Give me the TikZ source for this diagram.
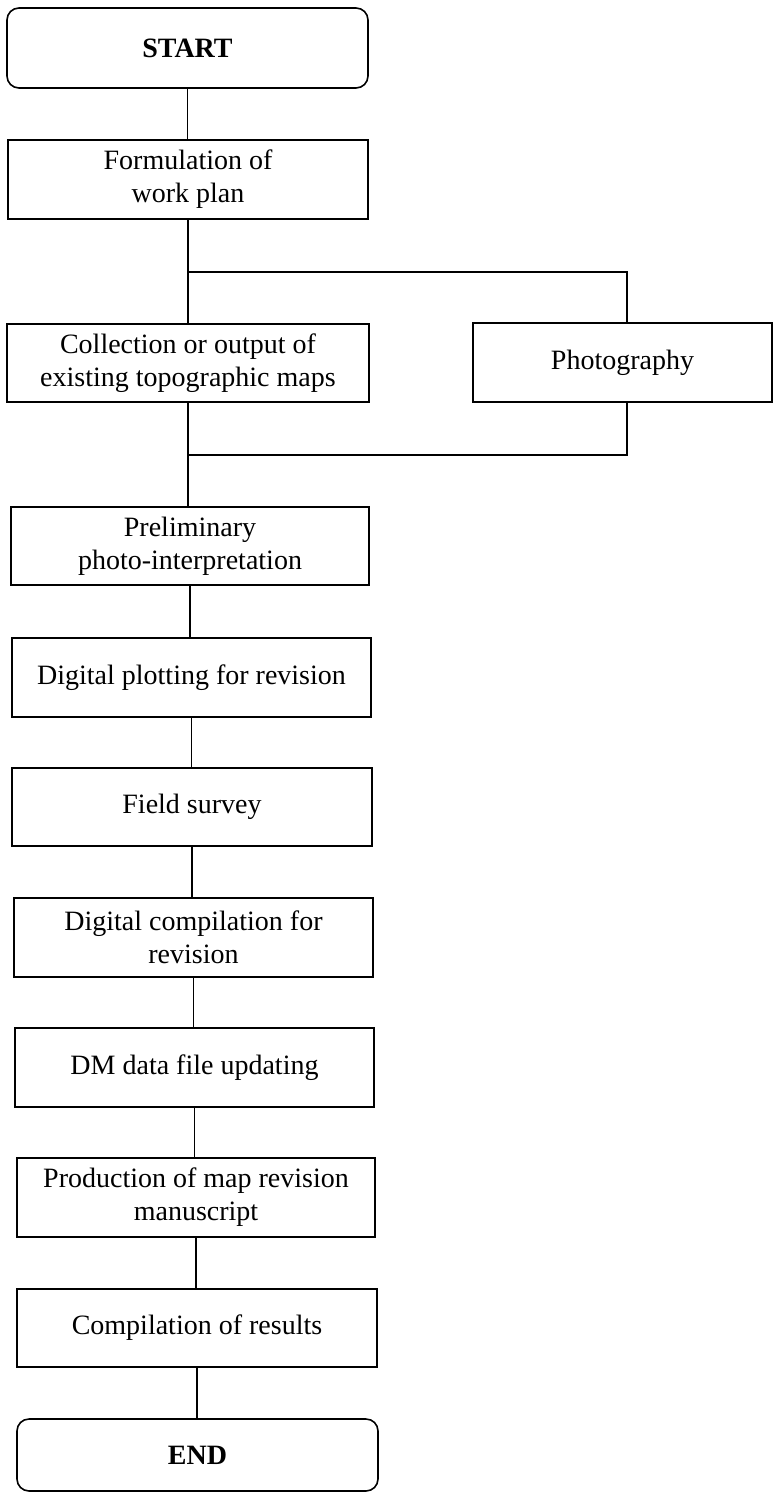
\documentclass[tikz,border=0pt]{standalone}
\usepackage{fontspec}
\setmainfont{Liberation Serif}
\begin{document}
\begin{tikzpicture}[x=1pt,y=-1pt,
  box/.style={draw, line width=1.6pt, align=center, inner sep=0pt,
              font=\fontsize{28}{33}\selectfont},
  term/.style={box, rounded corners=12pt,
              font=\fontsize{28}{33}\selectfont\bfseries},
  link/.style={line width=1.6pt}]
\useasboundingbox (0,0) rectangle (774,1493);

% process boxes (positions in pixels, y grows downwards)
\node[term, minimum width=361pt, minimum height=80pt] (start) at (187.5,48) {START};
\node[box, minimum width=360pt, minimum height=79pt] (form) at (188,179.5) {Formulation of\\work plan};
\node[box, minimum width=362pt, minimum height=78pt] (coll) at (188,363) {Collection or output of\\existing topographic maps};
\node[box, minimum width=299pt, minimum height=79pt] (photo) at (622.5,362.5) {Photography};
\node[box, minimum width=358pt, minimum height=78pt] (prelim) at (190,546) {Preliminary\\photo-interpretation};
\node[box, minimum width=359pt, minimum height=79pt] (plot) at (191.5,677.5) {Digital plotting for revision};
\node[box, minimum width=360pt, minimum height=78pt] (field) at (192,807) {Field survey};
\node[box, minimum width=359pt, minimum height=79pt] (dcomp) at (193.5,937.5) {Digital compilation for\\revision};
\node[box, minimum width=359pt, minimum height=79pt] (dm) at (194.5,1067.5) {DM data file updating};
\node[box, minimum width=358pt, minimum height=79pt] (prod) at (196,1197.5) {Production of map revision\\manuscript};
\node[box, minimum width=360pt, minimum height=78pt] (res) at (197,1328) {Compilation of results};
\node[term, minimum width=361pt, minimum height=72pt] (end) at (197.5,1455) {END};

% branch and join points of the parallel photography step
\coordinate (br) at (188,272);
\coordinate (bp) at (627,272);
\coordinate (jn) at (188,455);
\coordinate (jp) at (627,455);

% connectors
\draw[link] (start.south) -- (start.south |- form.north);
\draw[link] (form.south) -- (form.south |- coll.north);
\draw[link] (br) -- (bp) -- (bp |- photo.north);
\draw[link] (coll.south) -- (coll.south |- prelim.north);
\draw[link] (photo.south -| jp) -- (jp) -- (jn);
\draw[link] (prelim.south) -- (prelim.south |- plot.north);
\draw[link] (plot.south) -- (plot.south |- field.north);
\draw[link] (field.south) -- (field.south |- dcomp.north);
\draw[link] (dcomp.south) -- (dcomp.south |- dm.north);
\draw[link] (dm.south) -- (dm.south |- prod.north);
\draw[link] (prod.south) -- (prod.south |- res.north);
\draw[link] (res.south) -- (res.south |- end.north);
\end{tikzpicture}
\end{document}
